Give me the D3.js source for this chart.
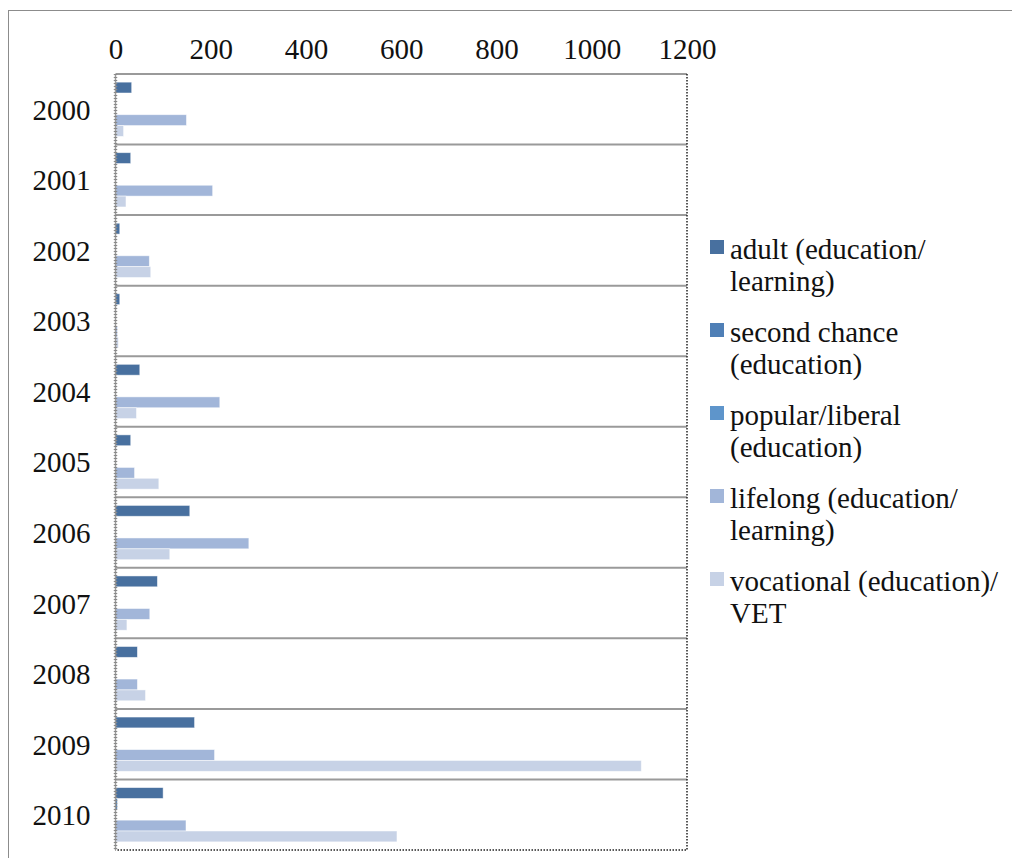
<!DOCTYPE html>
<html>
<head>
<meta charset="utf-8">
<script src="https://cdn.jsdelivr.net/npm/d3@7/dist/d3.min.js"></script>
<style>
  html, body { margin: 0; padding: 0; background: #fff; }
  svg { display: block; }
</style>
</head>
<body>
<svg id="chart" width="1012" height="858"></svg>
<script>
// Years on the category axis, top to bottom
const years = ["2000","2001","2002","2003","2004","2005","2006","2007","2008","2009","2010"];

// Series names (legend labels, split over lines)
const seriesNames = [
  "adult (education/ learning)",
  "second chance (education)",
  "popular/liberal (education)",
  "lifelong (education/ learning)",
  "vocational (education)/ VET"
];
const legendLines = [
  ["adult (education/", "learning)"],
  ["second chance", "(education)"],
  ["popular/liberal", "(education)"],
  ["lifelong (education/", "learning)"],
  ["vocational (education)/", "VET"]
];

// Counts per year for each series
const adult        = [34, 32, 9, 9, 51, 32, 156, 88, 46, 166, 100];
const secondChance = [0, 0, 0, 0, 0, 0, 0, 0, 0, 0, 4];
const popular      = [0, 0, 0, 0, 0, 0, 0, 0, 0, 0, 0];
const lifelong     = [149, 204, 71, 4, 219, 40, 280, 72, 46, 208, 148];
const vocational   = [17, 22, 74, 6, 44, 91, 114, 24, 63, 1104, 591];

// Value axis ticks
const xTicks = [0, 200, 400, 600, 800, 1000, 1200];

const seriesValues = [adult, secondChance, popular, lifelong, vocational];
const colors = ["#48709F", "#4F7FB6", "#5E95CB", "#A2B6D9", "#C7D2E6"];
const FONT = "'Liberation Serif', 'DejaVu Serif', serif";

const svg = d3.select("#chart");

// outer chart frame
svg.append("rect")
  .attr("x", 8.5).attr("y", 10.5)
  .attr("width", 1020).attr("height", 900)
  .attr("fill", "none").attr("stroke", "#8c8c8c").attr("stroke-width", 1);

const plot = { left: 115.5, right: 687, top: 74, bottom: 850 };

const x = d3.scaleLinear().domain([0, 1200]).range([plot.left, plot.right]);
const y = d3.scaleBand().domain(years).range([plot.top, plot.bottom]).paddingInner(0).paddingOuter(0);
const ySeries = d3.scaleBand().domain(d3.range(seriesNames.length))
  .range([0, y.bandwidth()]).paddingInner(0).paddingOuter(0.75);

// category separators (horizontal lines at band boundaries)
const boundaries = years.slice(1).map(yr => y(yr));
svg.append("g").selectAll("line").data(boundaries).join("line")
  .attr("x1", plot.left).attr("x2", plot.right)
  .attr("y1", d => d).attr("y2", d => d)
  .attr("stroke", "#9a9a9a").attr("stroke-width", 2);

// top border of plot
svg.append("line")
  .attr("x1", plot.left).attr("x2", plot.right)
  .attr("y1", plot.top).attr("y2", plot.top)
  .attr("stroke", "#9a9a9a").attr("stroke-width", 2);

// right and bottom dotted borders
svg.append("path")
  .attr("d", `M${plot.right},${plot.top}V${plot.bottom}H${plot.left}`)
  .attr("fill", "none").attr("stroke", "#222").attr("stroke-width", 1.5)
  .attr("stroke-dasharray", "1.5,1.5");

// bars
const rows = [];
years.forEach((yr, i) => {
  seriesValues.forEach((vals, s) => {
    rows.push({ year: yr, s, v: vals[i] });
  });
});
svg.append("g").selectAll("rect").data(rows.filter(d => d.v > 0)).join("rect")
  .attr("x", x(0))
  .attr("y", d => y(d.year) + ySeries(d.s))
  .attr("width", d => x(d.v) - x(0))
  .attr("height", ySeries.bandwidth())
  .attr("fill", d => colors[d.s])
  .attr("stroke", "#ffffff").attr("stroke-opacity", 0.6).attr("stroke-width", 0.8);

// left category axis line (gray, ticked)
svg.append("line")
  .attr("x1", plot.left).attr("x2", plot.left)
  .attr("y1", plot.top).attr("y2", plot.bottom)
  .attr("stroke", "#9a9a9a").attr("stroke-width", 1.5);
svg.append("line")
  .attr("x1", plot.left).attr("x2", plot.left)
  .attr("y1", plot.top).attr("y2", plot.bottom)
  .attr("stroke", "#8a8a8a").attr("stroke-width", 3.5)
  .attr("stroke-dasharray", "1,2");

// value axis labels on top
const xAxis = d3.axisTop(x).tickValues(xTicks).tickFormat(d3.format("d")).tickSize(0).tickPadding(0);
const gx = svg.append("g").attr("transform", `translate(0,59)`).call(xAxis);
gx.select(".domain").remove();
gx.selectAll("text")
  .attr("font-family", FONT)
  .attr("font-size", 29).attr("fill", "#111").attr("dy", 0);

// year labels
const yAxis = d3.axisLeft(y).tickSize(0).tickPadding(25);
const gy = svg.append("g").attr("transform", `translate(${plot.left},0)`).call(yAxis);
gy.select(".domain").remove();
gy.selectAll("text")
  .attr("font-family", FONT)
  .attr("font-size", 29).attr("fill", "#111").attr("dy", "0.36em");

// legend
const legend = svg.append("g").attr("transform", "translate(710,0)");
const legendTop = 250, legendStep = 83, lineGap = 32;
seriesNames.forEach((name, i) => {
  const g = legend.append("g").attr("transform", `translate(0,${legendTop + i * legendStep})`);
  g.append("rect").attr("x", 0).attr("y", -10).attr("width", 14).attr("height", 14)
    .attr("fill", colors[i]);
  const t = g.append("text").attr("x", 20).attr("y", 0)
    .attr("font-family", FONT).attr("fill", "#111")
    .attr("font-size", 29);
  legendLines[i].forEach((ln, j) => {
    t.append("tspan").attr("x", 20).attr("dy", j === 0 ? "0.3em" : lineGap).text(ln);
  });
});
</script>
</body>
</html>
